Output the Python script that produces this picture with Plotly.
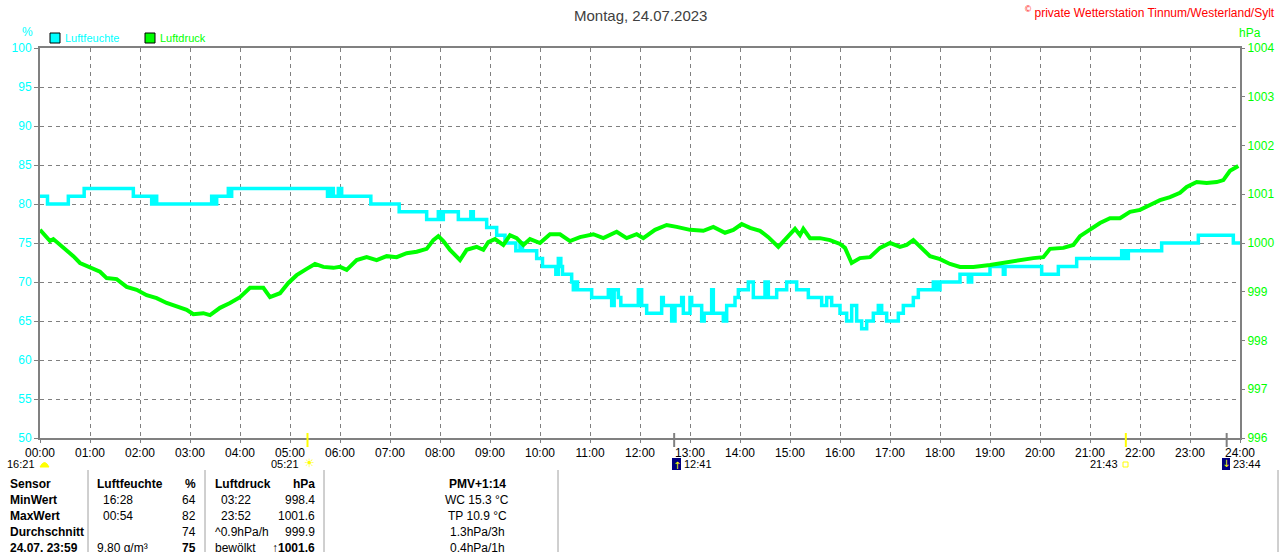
import plotly.graph_objects as go

# Luftfeuchte (%), Stufenwerte
hum_times = ["00:00", "00:09", "00:34", "00:53", "00:54", "01:52", "02:14", "02:17", "02:20",
             "03:26", "03:30", "03:32", "03:46", "03:48", "03:50", "05:45", "05:48", "05:52",
             "05:58", "06:02", "06:37", "07:11", "07:44", "07:58", "08:02", "08:04", "08:22",
             "08:37", "08:40", "08:56", "09:08", "09:18", "09:31", "09:36", "09:39", "09:56",
             "10:03", "10:19", "10:22", "10:25", "10:27", "10:38", "10:40", "10:42", "10:45",
             "11:02", "11:22", "11:26", "11:29", "11:34", "11:37", "11:58", "12:02", "12:08",
             "12:26", "12:28", "12:38", "12:42", "12:50", "12:52", "13:00", "13:02", "13:14",
             "13:17", "13:26", "13:28", "13:40", "13:44", "13:54", "13:58", "14:10", "14:16",
             "14:30", "14:34", "14:44", "14:56", "15:08", "15:22", "15:38", "15:44", "15:50",
             "16:00", "16:08", "16:14", "16:20", "16:26", "16:32", "16:40", "16:46", "16:50",
             "16:56", "17:10", "17:16", "17:28", "17:34", "17:52", "17:56", "18:00", "18:12",
             "18:24", "18:34", "18:38", "18:40", "19:00", "19:16", "19:18", "20:02", "20:22",
             "20:44", "21:38", "21:42", "21:46", "21:52", "22:26", "23:10", "23:52", "24:00"]
hum_values = [81, 80, 81, 82, 82, 81, 80, 81, 80,
              81, 80, 81, 82, 81, 82, 81, 82, 81,
              82, 81, 80, 79, 78, 79, 78, 79, 78,
              79, 78, 77, 76, 75, 74, 75, 74, 73,
              72, 71, 73, 72, 71, 70, 69, 70, 69,
              68, 69, 67, 69, 68, 67, 69, 67, 66,
              68, 67, 65, 67, 68, 66, 68, 67, 65,
              66, 69, 66, 65, 67, 68, 69, 70, 68,
              70, 68, 69, 70, 69, 68, 67, 68, 67,
              66, 65, 67, 65, 64, 65, 66, 67, 66,
              65, 66, 67, 68, 69, 70, 69, 70, 70,
              71, 70, 71, 71, 72, 71, 72, 71, 72,
              73, 74, 73, 74, 74, 75, 76, 75, 75]

# Luftdruck (hPa)
press_times = ["00:00", "00:06", "00:12", "00:16", "00:24", "00:32", "00:40", "00:48", "01:00",
               "01:12", "01:20", "01:32", "01:44", "01:56", "02:08", "02:20", "02:32", "02:44",
               "02:56", "03:04", "03:16", "03:24", "03:36", "03:48", "04:00", "04:12", "04:28",
               "04:36", "04:48", "04:58", "05:08", "05:20", "05:30", "05:40", "05:52", "06:00",
               "06:08", "06:20", "06:32", "06:44", "06:56", "07:08", "07:20", "07:32", "07:44",
               "07:52", "07:58", "08:04", "08:12", "08:24", "08:32", "08:44", "08:52", "08:58",
               "09:06", "09:16", "09:24", "09:32", "09:40", "09:48", "10:00", "10:12", "10:24",
               "10:36", "10:48", "11:04", "11:16", "11:32", "11:44", "11:56", "12:04", "12:18",
               "12:32", "12:44", "13:00", "13:16", "13:28", "13:42", "13:52", "14:02", "14:12",
               "14:24", "14:34", "14:46", "14:56", "15:06", "15:12", "15:16", "15:24", "15:36",
               "15:48", "16:00", "16:06", "16:14", "16:24", "16:36", "16:48", "17:00", "17:12",
               "17:20", "17:28", "17:38", "17:48", "18:00", "18:12", "18:24", "18:40", "19:00",
               "19:20", "19:40", "19:52", "20:04", "20:12", "20:28", "20:40", "20:48", "21:00",
               "21:12", "21:24", "21:36", "21:48", "22:00", "22:12", "22:24", "22:36", "22:48",
               "22:56", "23:08", "23:20", "23:32", "23:40", "23:48", "23:58"]
press_values = [1000.27, 1000.16, 1000.04, 1000.08, 999.96, 999.86, 999.73, 999.59, 999.51,
                999.41, 999.28, 999.26, 999.10, 999.04, 998.93, 998.87, 998.77, 998.69,
                998.63, 998.54, 998.56, 998.52, 998.67, 998.77, 998.89, 999.08, 999.08,
                998.89, 998.97, 999.18, 999.34, 999.47, 999.57, 999.51, 999.49, 999.51,
                999.45, 999.65, 999.71, 999.65, 999.73, 999.71, 999.79, 999.82, 999.88,
                1000.06, 1000.14, 1000.04, 999.86, 999.65, 999.86, 999.92, 999.86, 1000.02,
                1000.08, 999.96, 1000.16, 1000.10, 999.96, 1000.08, 1000.00, 1000.18, 1000.18,
                1000.04, 1000.12, 1000.18, 1000.10, 1000.23, 1000.10, 1000.18, 1000.10, 1000.27,
                1000.37, 1000.33, 1000.27, 1000.25, 1000.33, 1000.21, 1000.27, 1000.39, 1000.31,
                1000.25, 1000.12, 999.92, 1000.12, 1000.29, 1000.16, 1000.29, 1000.10, 1000.10,
                1000.06, 999.98, 999.90, 999.59, 999.69, 999.71, 999.90, 1000.00, 999.92,
                999.96, 1000.06, 999.90, 999.73, 999.67, 999.57, 999.51, 999.51, 999.55,
                999.61, 999.65, 999.69, 999.71, 999.88, 999.90, 999.96, 1000.14, 1000.27,
                1000.41, 1000.51, 1000.51, 1000.64, 1000.68, 1000.78, 1000.88, 1000.94, 1001.03,
                1001.15, 1001.25, 1001.23, 1001.25, 1001.29, 1001.48, 1001.58]

hour_labels = [f"{h:02d}:00" for h in range(25)]

# Tabelle unter dem Diagramm
table_rows = [
    ["Sensor", "Luftfeuchte", "%", "Luftdruck", "hPa", "PMV+1:14"],
    ["MinWert", "16:28", "64", "03:22", "998.4", "WC 15.3 °C"],
    ["MaxWert", "00:54", "82", "23:52", "1001.6", "TP 10.9 °C"],
    ["Durchschnitt", "", "74", "^0.9hPa/h", "999.9", "1.3hPa/3h"],
    ["24.07. 23:59", "9.80 g/m³", "75", "bewölkt", "↑1001.6", "0.4hPa/1h"],
]

# Sonne / Mond
sun_moon = [("05:21", "yellow"), ("12:41", "#808080"), ("21:43", "yellow"), ("23:44", "#808080")]

CYAN = "#00FFFF"
GREEN = "#00FF00"
GRAY = "#808080"
FONT = "Liberation Sans, Arial, sans-serif"


def hours(t):
    h, m = t.split(":")
    return int(h) + int(m) / 60


def px(p):
    return (p - 40) / 1200


def py(p):
    return (438 - p) / 390


fig = go.Figure()
fig.add_trace(go.Scatter(x=[hours(t) for t in hum_times], y=hum_values, mode="lines",
                         line=dict(color=CYAN, width=3.5, shape="hv"), name="Luftfeuchte"))
fig.add_trace(go.Scatter(x=[hours(t) for t in press_times], y=press_values, mode="lines",
                         line=dict(color=GREEN, width=4), name="Luftdruck", yaxis="y2"))

shapes = []
ann = []

# Legende
for x0, col, label in [(50, CYAN, "Luftfeuchte"), (145, GREEN, "Luftdruck")]:
    shapes.append(dict(type="rect", xref="paper", yref="paper", x0=px(x0), x1=px(x0 + 10),
                       y0=py(43), y1=py(33), fillcolor=col, line=dict(color="black", width=1)))
    ann.append(dict(x=px(x0 + 13), y=py(38), text=label, xanchor="left", yanchor="middle",
                    font=dict(color=col, size=11)))

ann += [
    dict(x=0.5, y=py(15), text="Montag, 24.07.2023", xanchor="center", yanchor="middle",
         font=dict(color="#404040", size=15)),
    dict(x=px(1277), y=py(12), text="<sup>©</sup> private Wetterstation Tinnum/Westerland/Sylt",
         xanchor="right", yanchor="middle", font=dict(color="red", size=12)),
    dict(x=px(27), y=py(32), text="%", xanchor="center", yanchor="middle",
         font=dict(color=CYAN, size=12)),
    dict(x=px(1250), y=py(33), text="hPa", xanchor="center", yanchor="middle",
         font=dict(color=GREEN, size=12)),
]

# Sonnen-/Mondzeiten an der Zeitachse
for t, col in sun_moon:
    shapes.append(dict(type="line", xref="x", yref="paper", x0=hours(t), x1=hours(t),
                       y0=py(433), y1=py(447), line=dict(color=col, width=2)))
ann += [
    dict(x=px(37), y=py(464), text="16:21", xanchor="right", yanchor="middle",
         font=dict(size=11, color="black")),
    dict(x=px(301), y=py(464), text="05:21", xanchor="right", yanchor="middle",
         font=dict(size=11, color="black")),
    dict(x=px(309), y=py(463), text="☀", xanchor="center", yanchor="middle",
         font=dict(size=12, color="yellow", family="DejaVu Sans")),
    dict(x=px(682), y=py(464), text="12:41", xanchor="left", yanchor="middle",
         font=dict(size=11, color="black")),
    dict(x=px(1120), y=py(464), text="21:43", xanchor="right", yanchor="middle",
         font=dict(size=11, color="black")),
    dict(x=px(1231), y=py(464), text="23:44", xanchor="left", yanchor="middle",
         font=dict(size=11, color="black")),
]
shapes += [
    dict(type="path", xref="paper", yref="paper",
         path=f"M {px(40)} {py(467)} Q {px(44.5)} {py(458)} {px(49)} {py(467)} Z",
         fillcolor="yellow", line=dict(color="yellow", width=1)),
    dict(type="rect", xref="paper", yref="paper", x0=px(672), x1=px(681), y0=py(470), y1=py(458),
         fillcolor="#000080", line=dict(width=0)),
    dict(type="rect", xref="paper", yref="paper", x0=px(1222), x1=px(1230), y0=py(470), y1=py(458),
         fillcolor="#000080", line=dict(width=0)),
    dict(type="rect", xref="paper", yref="paper", x0=px(1123), x1=px(1128), y0=py(467), y1=py(462),
         fillcolor="white", line=dict(color="yellow", width=1)),
]
ann += [
    dict(x=px(676.5), y=py(465), text="↑", xanchor="center", yanchor="middle",
         font=dict(size=10, color="yellow", family="DejaVu Sans")),
    dict(x=px(1226), y=py(463), text="↓", xanchor="center", yanchor="middle",
         font=dict(size=10, color="yellow", family="DejaVu Sans")),
]

# Tabelle
for sx in [88, 205, 324, 558, 1278]:
    shapes.append(dict(type="line", xref="paper", yref="paper", x0=px(sx), x1=px(sx),
                       y0=py(470), y1=py(560), line=dict(color="#a0a0a0", width=1)))

col_pos = [(8, "left"), (95, "left"), (198, "right"), (213, "left"), (317, "right"), (477, "center")]
row_y = [484, 500, 516, 532, 548]
for r, row in enumerate(table_rows):
    for c, txt in enumerate(row):
        if not txt:
            continue
        x, anchor = col_pos[c]
        if r in (1, 2) and c in (1, 3):
            x += 6
        bold = r == 0 or c == 0 or (r == 4 and c in (2, 4))
        ann.append(dict(x=px(x), y=py(row_y[r]), text=f"<b>{txt}</b>" if bold else txt,
                        xanchor=anchor, yanchor="middle", font=dict(size=12, color="black")))

for a in ann:
    a.update(xref="paper", yref="paper", showarrow=False)

fig.update_layout(
    width=1280, height=552,
    margin=dict(l=40, r=40, t=48, b=114, autoexpand=False),
    paper_bgcolor="white", plot_bgcolor="white",
    font=dict(family=FONT, size=12, color="black"),
    showlegend=False,
    shapes=shapes, annotations=ann,
    xaxis=dict(range=[0, 24], tickvals=list(range(25)), ticktext=hour_labels, automargin=False,
               showgrid=True, gridcolor=GRAY, griddash="4px,4px", gridwidth=1,
               showline=True, linecolor=GRAY, linewidth=2, mirror=True,
               ticks="outside", ticklen=3, tickcolor=GRAY, zeroline=False,
               tickfont=dict(color="black", size=12)),
    yaxis=dict(range=[50, 100], tickvals=list(range(50, 101, 5)), automargin=False,
               showgrid=True, gridcolor=GRAY, griddash="4px,4px", gridwidth=1,
               showline=True, linecolor=GRAY, linewidth=2, mirror=True,
               ticks="outside", ticklen=4, tickcolor=GRAY, zeroline=False,
               tickfont=dict(color=CYAN, size=12)),
    yaxis2=dict(range=[996, 1004], tickvals=list(range(996, 1005)), overlaying="y", side="right",
                automargin=False, showgrid=False, zeroline=False, ticks="outside", ticklen=4,
                tickcolor=GRAY, tickfont=dict(color=GREEN, size=12)),
)

# Seitenrand des Browsers entfernen, damit die Grafik bei 0,0 beginnt
fig.write_html("out.html", config={"displayModeBar": False},
               post_script="document.body.style.margin='0';")
